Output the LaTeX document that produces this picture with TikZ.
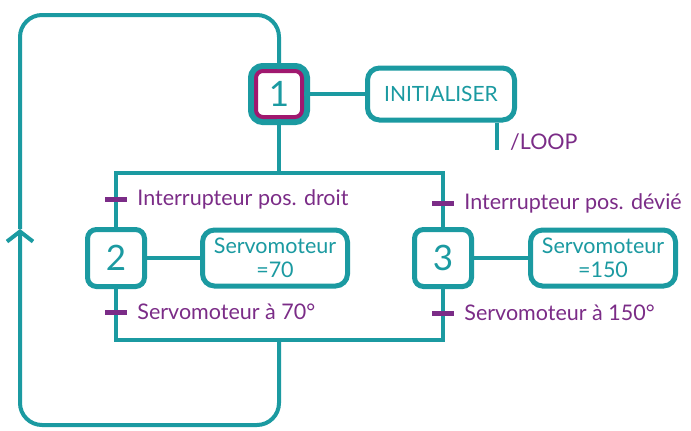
\documentclass[tikz,border=0pt]{standalone}
\usepackage{fontspec}
\setmainfont{Lato}
\usetikzlibrary{positioning,arrows.meta}

\definecolor{grafteal}{HTML}{1B9AA1}
\definecolor{grafpurple}{HTML}{7B2C87}
\definecolor{grafmagenta}{HTML}{A0186F}

\begin{document}
\begin{tikzpicture}[x=1pt, y=-1pt,
    grafcet step/.style={rectangle, draw=grafteal, line width=5pt, rounded corners=9pt, fill=white,
        minimum size=57pt, inner sep=0pt, text=grafteal, font=\fontsize{35}{35}\selectfont},
    init step/.style={grafcet step, draw=grafmagenta, line width=4pt, minimum size=46pt, rounded corners=7pt,
        preaction={draw=grafteal, line width=16pt}},
    action box/.style={rectangle, draw=grafteal, line width=5pt, rounded corners=12pt, fill=white,
        minimum width=145pt, minimum height=56pt, align=center, text=grafteal, font=\fontsize{21.5}{24}\selectfont},
    trans tick/.style={rectangle, fill=grafpurple, minimum width=22pt, minimum height=5pt, inner sep=0pt},
    trans label/.style={text=grafpurple, inner sep=0pt, anchor=west, font=\fontsize{21.5}{24}\selectfont},
    flow/.style={draw=grafteal, line width=4pt}]

    \useasboundingbox (0,0) rectangle (691,431);

    % steps and actions
    \node [init step] (s1) at (279,94) {1};
    \node [action box, minimum width=147pt, minimum height=52pt, font=\fontsize{21}{24}\selectfont] (init) at (441,94) {INITIALISER};

    \node [grafcet step] (s2) at (116,258) {2};
    \node [action box, right=53pt of s2] (a2) {Servomoteur\\=70};

    \node [grafcet step] (s3) at (443,258) {3};
    \node [action box, right=54pt of s3] (a3) {Servomoteur\\=150};

    \coordinate (fork) at (279,173);
    \coordinate (join) at (279,340);
    \coordinate (loop tail) at (497,150);
    \coordinate (up mark) at (20,229);

    \draw [flow] (s1) -- (init);
    \draw [flow] (s2) -- (a2);
    \draw [flow] (s3) -- (a3);
    \draw [flow] (init.south -| loop tail) -- (loop tail);
    \node [trans label] (loop lbl) at (510,142) {/LOOP};

    % divergence / convergence
    \draw [flow] (s1) -- (fork);
    \draw [flow] (s2) |- (fork) -| (s3);
    \draw [flow] (s2) |- (join) -| (s3);

    % return to the initial step
    \draw [flow, rounded corners=22pt, -{Straight Barb[length=10pt, width=26pt]}] (join) -- (279,425) -| (up mark);
    \draw [flow, rounded corners=22pt] (up mark) |- (279,15) -- (s1);

    % transitions
    \node [trans tick] (t1) at (116,199) {};
    \node [trans label, right=10pt of t1] (l1) {Interrupteur pos. droit};
    \node [trans tick] (t2) at (116,312) {};
    \node [trans label, right=10pt of t2] (l2) {Servomoteur à 70°};
    \node [trans tick] (t3) at (443,203) {};
    \node [trans label, right=10pt of t3] (l3) {Interrupteur pos. dévié};
    \node [trans tick] (t4) at (443,313) {};
    \node [trans label, right=10pt of t4] (l4) {Servomoteur à 150°};

\end{tikzpicture}
\end{document}
